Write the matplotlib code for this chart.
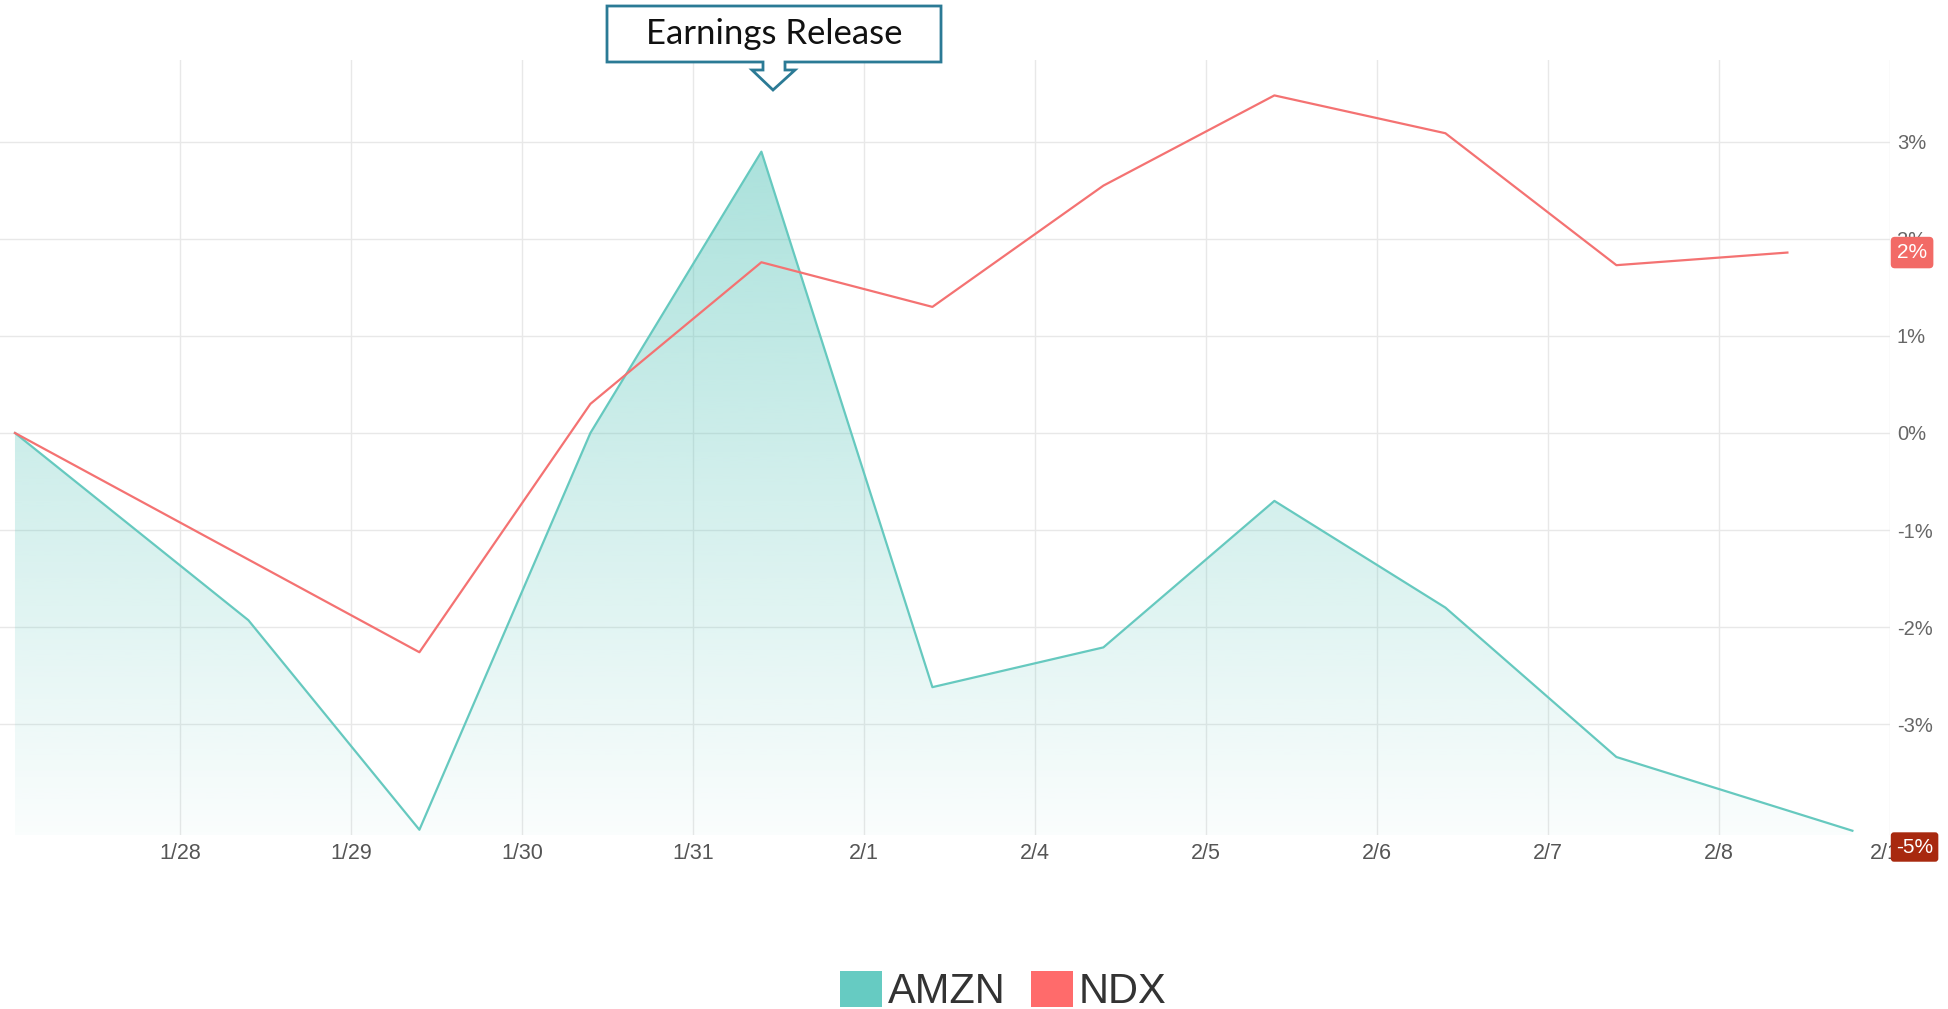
import numpy as np
import matplotlib
matplotlib.use("Agg")
import matplotlib.pyplot as plt
from matplotlib.patches import Polygon, Patch
from matplotlib.transforms import blended_transform_factory
from matplotlib.ticker import FuncFormatter

# ---------------- data ----------------
tick_labels = ["1/28", "1/29", "1/30", "1/31", "2/1", "2/4", "2/5", "2/6", "2/7", "2/8", "2/11"]
tick_pos = list(range(len(tick_labels)))

amzn_x = [-0.965, 0.4, 1.4, 2.4, 3.4, 4.4, 5.4, 6.4, 7.4, 8.4, 9.78]
amzn_y = [0.0, -1.93, -4.09, 0.0, 2.90, -2.62, -2.21, -0.70, -1.80, -3.34, -4.10]

ndx_x = [-0.965, 1.4, 2.4, 3.4, 4.4, 5.4, 6.4, 7.4, 8.4, 9.4]
ndx_y = [0.0, -2.26, 0.30, 1.76, 1.30, 2.55, 3.48, 3.09, 1.73, 1.86]

y_ticks = [-3, -2, -1, 0, 1, 2, 3]
ndx_badge = "2%"
amzn_badge = "-5%"

# ---------------- style ----------------
W, H, DPI = 1949, 1009, 100
AMZN_C = "#66c9bf"
NDX_C = "#f47272"
YMIN, YMAX = -4.144, 3.845
XMIN, XMAX = -1.0526, 10.0

fig = plt.figure(figsize=(W / DPI, H / DPI), dpi=DPI)
fig.patch.set_facecolor("white")
ax = fig.add_axes([0, 1 - 835 / H, 1890 / W, (835 - 60) / H])
ax.set_xlim(XMIN, XMAX)
ax.set_ylim(YMIN, YMAX)
for s in ax.spines.values():
    s.set_visible(False)

ax.set_xticks(tick_pos)
ax.set_xticklabels(tick_labels, family="Liberation Sans", fontsize=15.5, color="#555555")
ax.set_yticks(y_ticks)
ax.yaxis.set_major_formatter(FuncFormatter(lambda v, p: f"{int(v)}%"))
ax.yaxis.tick_right()
ax.tick_params(axis="x", length=0, pad=6)
ax.tick_params(axis="y", length=0, pad=5, labelsize=14.5, labelcolor="#666666")
for lab in ax.get_yticklabels():
    lab.set_family("Liberation Sans")
ax.grid(True, color="#e8e8e8", lw=1.0)
ax.set_axisbelow(True)

# gradient fill under AMZN
poly = ax.fill_between(amzn_x, amzn_y, YMIN, facecolor="none", edgecolor="none")
grad = np.linspace(0.03, 0.58, 256).reshape(-1, 1)
rgba = np.zeros((256, 1, 4))
rgba[..., 0] = 92 / 255
rgba[..., 1] = 198 / 255
rgba[..., 2] = 187 / 255
rgba[..., 3] = grad
img = ax.imshow(rgba, extent=[XMIN, XMAX, YMIN, YMAX], origin="lower",
                aspect="auto", zorder=1, interpolation="bilinear")
img.set_clip_path(poly.get_paths()[0], transform=ax.transData)

ax.plot(amzn_x, amzn_y, color=AMZN_C, lw=1.6, zorder=3)
ax.plot(ndx_x, ndx_y, color=NDX_C, lw=1.6, zorder=3)

# value badges on right axis
bt = blended_transform_factory(ax.transAxes, ax.transData)
ax.annotate(ndx_badge, xy=(1.0, ndx_y[-1]), xycoords=bt, xytext=(7, 0),
            textcoords="offset pixels", ha="left", va="center", color="white",
            fontsize=15, family="Liberation Sans", annotation_clip=False, zorder=10,
            bbox=dict(boxstyle="round,pad=0.3,rounding_size=0.2", fc="#f26a66", ec="none"))
ax.annotate(amzn_badge, xy=(1.0, -0.0155), xycoords="axes fraction", xytext=(6, 0),
            textcoords="offset pixels", ha="left", va="center", color="white",
            fontsize=15, family="Liberation Sans", annotation_clip=False, zorder=10,
            bbox=dict(boxstyle="round,pad=0.25,rounding_size=0.15", fc="#a8290f", ec="none"))

# callout "Earnings Release"
pts_px = [(607, 6), (941, 6), (941, 62), (785, 62), (785, 70), (795, 70), (773, 90),
          (752, 70), (763, 70), (763, 62), (607, 62)]
pts = [(x / W, 1 - y / H) for x, y in pts_px]
fig.add_artist(Polygon(pts, closed=True, transform=fig.transFigure, fc="white",
                       ec="#2b7a95", lw=2.0, joinstyle="miter"))
fig.text(774 / W, 1 - 34 / H, "Earnings Release", ha="center", va="center",
         fontsize=25, family="Lato", color="#111111")

# legend
handles = [Patch(facecolor="#66cbc2", edgecolor="none", label="AMZN"),
           Patch(facecolor="#ff6b6b", edgecolor="none", label="NDX")]
fig.legend(handles=handles, loc="lower center", bbox_to_anchor=(1003.5 / W, -0.024),
           ncol=2, frameon=False, prop=dict(family="Liberation Sans", size=30),
           handlelength=1.0, handleheight=0.95, handletextpad=0.15,
           columnspacing=0.6, borderpad=0.0, labelcolor="#333333")

fig.savefig("out.png", dpi=DPI)
